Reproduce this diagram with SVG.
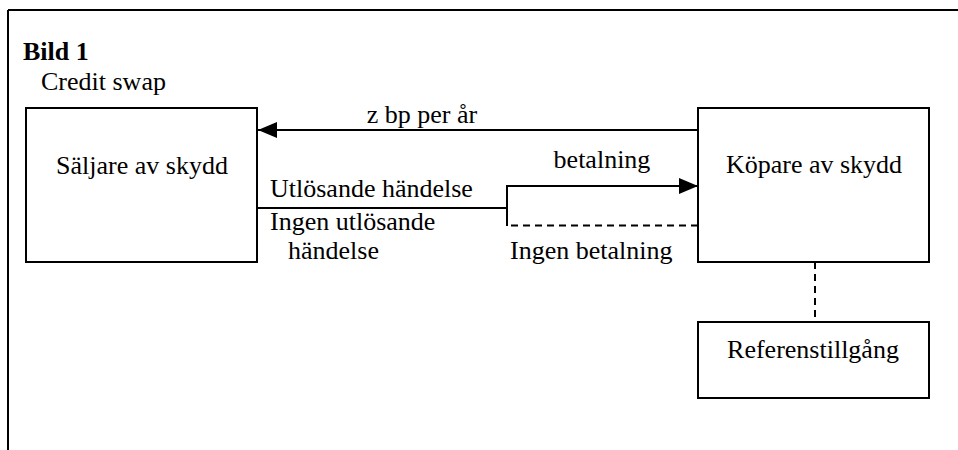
<svg xmlns="http://www.w3.org/2000/svg" width="958" height="450" viewBox="0 0 958 450">
<style>
text{font-family:'Liberation Serif','Times New Roman',serif;font-size:26px;fill:#000}
.b{font-weight:bold}
.box{fill:#fff;stroke:#000;stroke-width:2}
.ln{fill:none;stroke:#000;stroke-width:2}
.dash{fill:none;stroke:#000;stroke-width:2;stroke-dasharray:7,5}
</style>
<defs>
<marker id="ah" markerWidth="20" markerHeight="16" refX="19" refY="8" orient="auto" markerUnits="userSpaceOnUse">
<path d="M0,0 L19,8 L0,16 Z" fill="#000"/>
</marker>
</defs>
<g id="frame">
<line x1="8" y1="10" x2="958" y2="10" class="ln"/>
<line x1="8" y1="10" x2="8" y2="450" class="ln"/>
<text x="23" y="60" class="b">Bild 1</text>
<text x="41" y="90">Credit swap</text>
</g>
<g id="connectors">
<line x1="698" y1="130" x2="258" y2="130" class="ln" marker-end="url(#ah)"/>
<polyline points="257,208 507,208 507,186" class="ln"/>
<line x1="506" y1="186" x2="698" y2="186" class="ln" marker-end="url(#ah)"/>
<line x1="507" y1="208" x2="507" y2="226" class="ln"/>
<line x1="511" y1="225.5" x2="704" y2="225.5" class="dash"/>
<line x1="815" y1="262" x2="815" y2="322" class="dash"/>
<text x="422" y="123" text-anchor="middle">z bp per år</text>
<text x="602" y="168" text-anchor="middle">betalning</text>
<text x="270" y="197">Utlösande händelse</text>
<text x="270" y="230">Ingen utlösande</text>
<text x="288" y="259">händelse</text>
<text x="510" y="259">Ingen betalning</text>
</g>
<g id="seller">
<rect x="26" y="108" width="231" height="154" class="box"/>
<text x="142" y="174" text-anchor="middle">Säljare av skydd</text>
</g>
<g id="buyer">
<rect x="698" y="108" width="231" height="154" class="box"/>
<text x="814" y="173" text-anchor="middle">Köpare av skydd</text>
</g>
<g id="reference">
<rect x="698" y="322" width="231" height="76" class="box"/>
<text x="813" y="358" text-anchor="middle">Referenstillgång</text>
</g>
</svg>
